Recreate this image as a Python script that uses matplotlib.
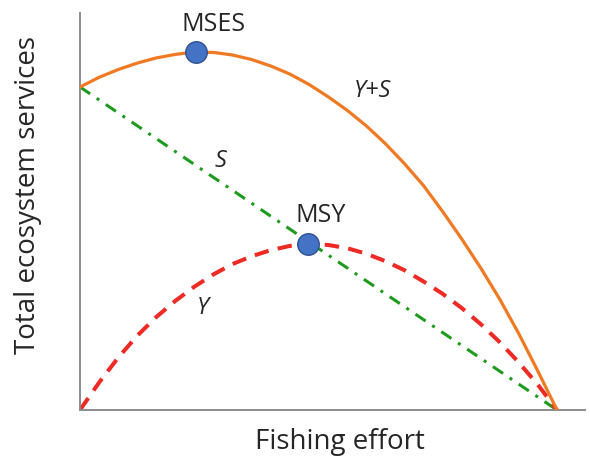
import matplotlib
matplotlib.use("Agg")
import matplotlib.pyplot as plt

plt.rcParams['font.family'] = ['Open Sans', 'DejaVu Sans']

# Fishing effort (scaled so that S reaches zero at 1)
effort = [0.00, 0.04, 0.08, 0.12, 0.16, 0.20, 0.24, 0.28, 0.32, 0.36, 0.40,
          0.44, 0.48, 0.52, 0.56, 0.60, 0.64, 0.68, 0.72, 0.76, 0.80, 0.84,
          0.88, 0.92, 0.96, 1.00]

# Yield from the fishery (Y)
yield_y = [0.000, 0.085, 0.162, 0.230, 0.288, 0.338, 0.382, 0.420, 0.452,
           0.476, 0.495, 0.508, 0.514, 0.511, 0.501, 0.484, 0.461, 0.433,
           0.398, 0.360, 0.316, 0.266, 0.210, 0.147, 0.078, 0.000]

# Other ecosystem services (S), falling in a straight line
effort_s = [0.0, 1.0]
stock_s = [1.0, 0.0]

# Total ecosystem services (Y+S)
total_ys = [1.000, 1.030, 1.054, 1.074, 1.090, 1.101, 1.108, 1.107, 1.099,
            1.085, 1.065, 1.040, 1.008, 0.970, 0.928, 0.880, 0.825, 0.763,
            0.695, 0.615, 0.530, 0.440, 0.343, 0.236, 0.120, 0.000]

point_names = ["MSES", "MSY"]
point_effort = [0.243, 0.478]
point_value = [1.108, 0.514]

fig = plt.figure(figsize=(5.9, 4.6), dpi=100)
ax = fig.add_axes([80 / 590, 49 / 460, 505 / 590, 397 / 460])

ax.plot(effort_s, stock_s, color="#1E9B1E", lw=2.2,
        linestyle=(0, (4.0, 2.6, 1.0, 2.6)), zorder=2)
ax.plot(effort, yield_y, color="#EE2A24", lw=2.9,
        linestyle=(0, (3.6, 2.3)), zorder=2)
ax.plot(effort, total_ys, color="#F07A24", lw=2.3,
        solid_capstyle="round", solid_joinstyle="round", zorder=3)

ax.plot(point_effort, point_value, linestyle="none", marker="o", ms=15.5,
        markerfacecolor="#4472C4", markeredgecolor="#2F528F", mew=1.0,
        zorder=5)

txt = "#262626"
ax.text(0.279, 1.198, point_names[0], ha="center", va="center",
        fontsize=18, color=txt)
ax.text(0.505, 0.604, point_names[1], ha="center", va="center",
        fontsize=18, color=txt)
ax.text(0.614, 0.991, "Y+S", style="italic", ha="center", va="center",
        fontsize=17, color=txt)
ax.text(0.294, 0.774, "S", style="italic", ha="center", va="center",
        fontsize=17, color=txt)
ax.text(0.258, 0.319, "Y", style="italic", ha="center", va="center",
        fontsize=17, color=txt)

ax.set_xlim(0, 505 / 477)
ax.set_ylim(0, 397 / 323)
for side in ("top", "right"):
    ax.spines[side].set_visible(False)
for side in ("left", "bottom"):
    ax.spines[side].set_color("#8C8C8C")
    ax.spines[side].set_linewidth(1.4)
ax.set_xticks([])
ax.set_yticks([])

ax.set_xlabel("Fishing effort", fontsize=20, color=txt)
ax.set_ylabel("Total ecosystem services", fontsize=20, color=txt)
ax.xaxis.set_label_coords(0.515, -0.078)
ax.yaxis.set_label_coords(-0.103, 0.544)
ax.xaxis.label.set_va("center")
ax.yaxis.label.set_va("center")

fig.savefig("out.png", dpi=100)
